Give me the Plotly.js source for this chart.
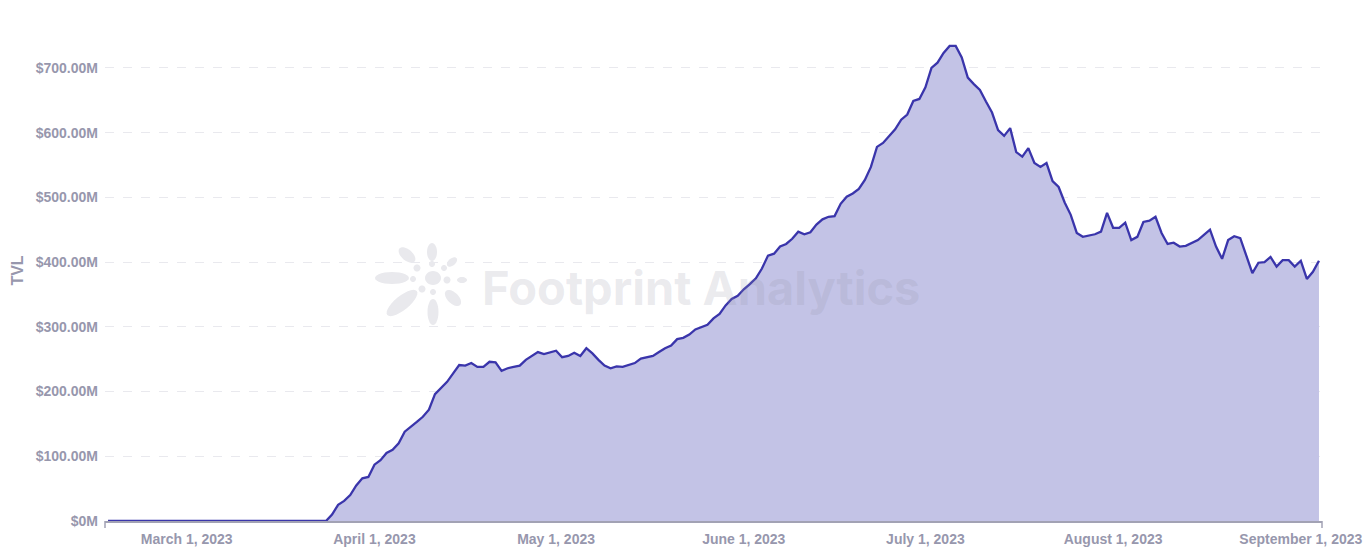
<!DOCTYPE html>
<html>
<head>
<meta charset="utf-8">
<script src="https://cdn.plot.ly/plotly-3.0.1.min.js"></script>
<style>
html,body{margin:0;padding:0;background:#ffffff;}
#chart{width:1366px;height:549px;}
</style>
</head>
<body>
<div id="chart"></div>
<script>
// ---- data ----
const startDate = '2023-02-16';
// daily TVL in millions of USD
const tvlMillions = [
  0,0,0,0,0,0,0,0,0,0,0,0,0,0,0,0,0,0,0,0,0,0,0,0,0,0,0,0,0,0,0,0,0,0,0,0,0,
  10,25,31,40,55,66,68,87,94,105,110,120,138,145,153,161,172,196,206,215,228,
  241,240,244,238,238,246,245,232,236,238,240,249,255,261,258,261,263,253,255,260,255,267,
  259,249,240,236,239,238,241,244,251,253,255,261,267,271,281,283,288,296,299,303,
  313,320,333,343,348,358,366,375,390,410,413,424,428,436,447,443,446,458,466,470,471,
  490,501,506,513,527,547,578,584,594,605,620,628,649,652,670,700,708,723,734,734,
  716,685,675,666,648,631,604,595,607,570,563,576,553,547,553,525,516,492,473,445,
  439,441,443,447,476,453,453,461,434,439,462,464,470,445,428,430,424,425,430,434,
  442,450,424,405,434,440,437,411,383,399,400,408,393,403,403,393,402,374,385,402
];
const yTickValues = [0,100,200,300,400,500,600,700];
const yTickLabels = ['$0M','$100.00M','$200.00M','$300.00M','$400.00M','$500.00M','$600.00M','$700.00M'];
const xTickDates = ['2023-03-01','2023-04-01','2023-05-01','2023-06-01','2023-07-01','2023-08-01','2023-09-01'];
const xTickLabels = ['March 1, 2023','April 1, 2023','May 1, 2023','June 1, 2023','July 1, 2023','August 1, 2023','September 1, 2023'];

// ---- build dates ----
const dates = [];
{
  const d0 = new Date(startDate + 'T00:00:00Z');
  for (let i = 0; i < tvlMillions.length; i++) {
    const d = new Date(d0.getTime() + i * 86400000);
    dates.push(d.toISOString().slice(0, 10));
  }
}

// ---- layout geometry (pixels) ----
const W = 1366, H = 549;
const M = {l: 105, r: 44, t: 20, b: 28};
const plotW = W - M.l - M.r, plotH = H - M.t - M.b;
const px2x = px => (px - M.l) / plotW;
const py2y = py => (H - M.b - py) / plotH;

// watermark logo: rotated ellipses [cx, cy, rx, ry, angleDeg] in pixels
const logoParts = [
  [392,278,17,6,0],[407,255,10,5.5,41],[432,252,9,5,90],[452,262,6,3.5,-40],
  [462,280,5,3,0],[453,298,10,5.5,45],[433,312,13,5.5,90],[402,303,19,7,-39],
  [433,278,8,7,0],
  [417,268,3.5,3.5,0],[413,279,3,3,0],[422,289,3.5,3.5,0],[432,264,3,3,0],
  [444,268,3,3,0],[447,280,3.5,3.5,0],[433,292,3,3,0]
];
function ellipsePath(cx, cy, rx, ry, ang) {
  const phi = ang * Math.PI / 180, n = 28;
  let p = '';
  for (let k = 0; k < n; k++) {
    const t = 2 * Math.PI * k / n;
    const x = cx + rx * Math.cos(t) * Math.cos(phi) - ry * Math.sin(t) * Math.sin(phi);
    const y = cy + rx * Math.cos(t) * Math.sin(phi) + ry * Math.sin(t) * Math.cos(phi);
    p += (k === 0 ? 'M' : 'L') + px2x(x).toFixed(5) + ',' + py2y(y).toFixed(5);
  }
  return p + 'Z';
}

const axisGray = '#a2a2b4';
const labelGray = '#9797ad';
const font = 'Liberation Sans, Arial, Helvetica, sans-serif';

const shapes = logoParts.map(e => ({
  type: 'path', xref: 'paper', yref: 'paper', path: ellipsePath(...e),
  fillcolor: '#e9e9ed', line: {width: 0}, layer: 'below'
}));
// small end ticks on the x axis
[0, 1].forEach(xp => shapes.push({
  type: 'line', xref: 'paper', yref: 'paper', x0: xp, x1: xp, y0: 0, y1: -7 / plotH,
  line: {color: axisGray, width: 1.5}
}));

const trace = {
  type: 'scatter', mode: 'lines',
  x: dates, y: tvlMillions,
  fill: 'tozeroy', fillcolor: '#c3c3e6',
  line: {color: '#3a35ab', width: 2.3, shape: 'linear'},
  hoverinfo: 'skip', showlegend: false
};

const layout = {
  width: W, height: H,
  margin: M,
  paper_bgcolor: '#ffffff', plot_bgcolor: '#ffffff',
  showlegend: false,
  xaxis: {
    type: 'date',
    range: ['2023-02-15 12:00', '2023-09-04 12:00'],
    tickmode: 'array', tickvals: xTickDates, ticktext: xTickLabels,
    showgrid: false, zeroline: false,
    showline: true, linecolor: axisGray, linewidth: 1.5,
    ticks: 'outside', ticklen: 5, tickcolor: 'rgba(0,0,0,0)',
    tickfont: {family: font, size: 14, color: labelGray, weight: 'bold'},
    fixedrange: true
  },
  yaxis: {
    range: [0, 774],
    tickmode: 'array', tickvals: yTickValues, ticktext: yTickLabels,
    showgrid: true, gridcolor: '#e9e9ee', gridwidth: 1, griddash: 'dash',
    zeroline: false, showline: false, ticks: '',
    ticklabelstandoff: 6,
    tickfont: {family: font, size: 14, color: labelGray, weight: 'bold'},
    title: {text: 'TVL', standoff: 8, font: {family: font, size: 16, color: labelGray, weight: 'bold'}},
    fixedrange: true
  },
  shapes: shapes,
  annotations: [{
    xref: 'paper', yref: 'paper', x: px2x(701), y: py2y(287),
    xanchor: 'center', yanchor: 'middle', showarrow: false,
    text: 'Footprint Analytics',
    font: {family: 'Inter, Noto Sans, sans-serif', size: 47, weight: 'bold', color: 'rgba(150,150,168,0.2)'}
  }]
};

Plotly.newPlot('chart', [trace], layout, {displayModeBar: false, staticPlot: true});
</script>
</body>
</html>
